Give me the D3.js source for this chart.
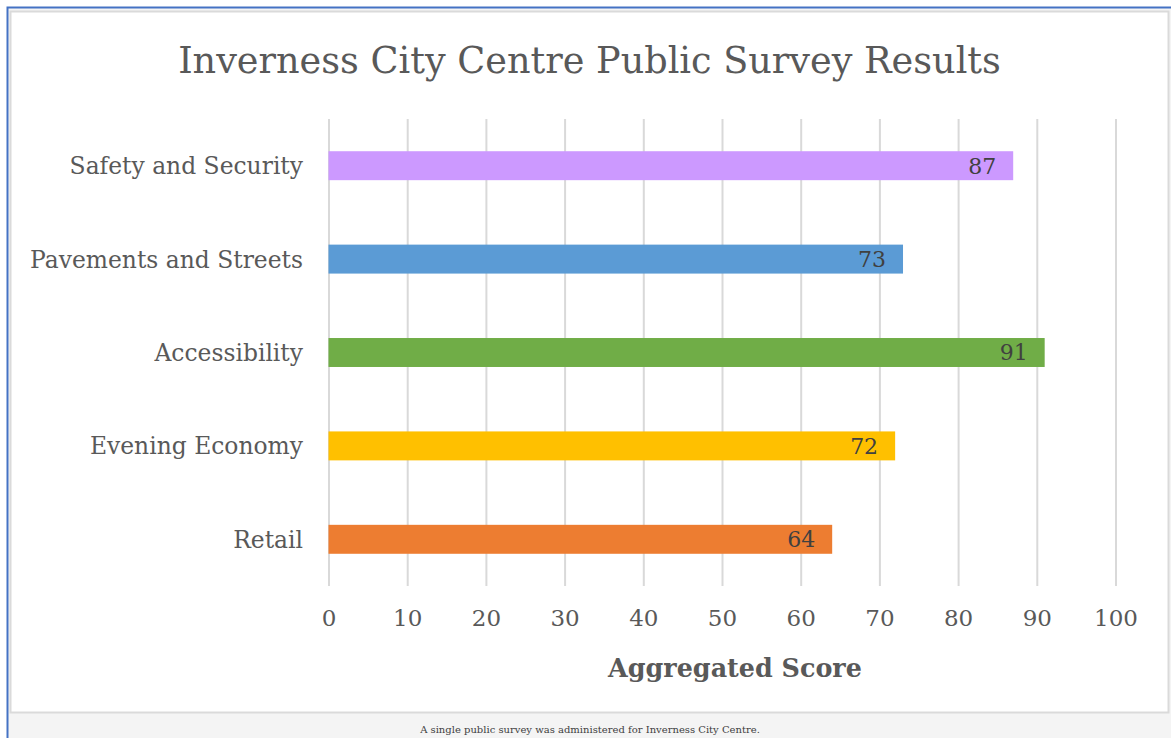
<!DOCTYPE html>
<html>
<head>
<meta charset="utf-8">
<script src="https://cdn.jsdelivr.net/npm/d3@7"></script>
<style>
  html, body { margin: 0; padding: 0; background: #ffffff; }
  svg { display: block; }
</style>
</head>
<body>
<svg id="chart" width="1171" height="738"></svg>
<script>
// Survey categories, top to bottom
const categories = [
  "Safety and Security",
  "Pavements and Streets",
  "Accessibility",
  "Evening Economy",
  "Retail"
];
// Aggregated score per category
const scores = [87, 73, 91, 72, 64];
// Bar colour per category
const barColors = ["#cc99ff", "#5b9bd5", "#70ad47", "#ffc000", "#ed7d31"];
// Horizontal axis ticks
const xTicks = [0, 10, 20, 30, 40, 50, 60, 70, 80, 90, 100];

const chartTitle = "Inverness City Centre Public Survey Results";
const xAxisTitle = "Aggregated Score";
const caption = "A single public survey was administered for Inverness City Centre.";

const W = 1171, H = 738;
const FONT = "'DejaVu Serif', 'Liberation Serif', serif";
const TEXT = "#595959";

const svg = d3.select("#chart");

// Scale a text element's font size so its rendered width equals `target`
function fitWidth(sel, target) {
  const node = sel.node();
  const fs = parseFloat(sel.attr("font-size"));
  const w = node.getComputedTextLength();
  if (w > 0) sel.attr("font-size", (fs * target / w).toFixed(2));
  return sel;
}

// Outer frame: blue rule with light grey surround
svg.append("rect")
  .attr("x", 7.5).attr("y", 7.5)
  .attr("width", W).attr("height", H)
  .attr("fill", "#f4f4f4")
  .attr("stroke", "#4472c4").attr("stroke-width", 2);

// White chart panel
svg.append("rect")
  .attr("x", 10.5).attr("y", 11.5)
  .attr("width", 1158).attr("height", 701)
  .attr("fill", "#ffffff")
  .attr("stroke", "#dadada").attr("stroke-width", 2);

// Scales
const x = d3.scaleLinear().domain([0, 100]).range([328.5, 1115.5]);
const y = d3.scaleBand()
  .domain(categories)
  .range([119, 586])
  .paddingInner(0.69)
  .paddingOuter(0.345);

// Vertical gridlines and tick labels via the bottom axis
const xAxis = d3.axisBottom(x)
  .tickValues(xTicks)
  .tickSize(-(586 - 119))
  .tickPadding(24)
  .tickFormat(d3.format("d"));

const gx = svg.append("g")
  .attr("transform", "translate(0,586)")
  .call(xAxis);
gx.select(".domain").remove();
gx.selectAll(".tick line")
  .attr("stroke", "#d9d9d9")
  .attr("stroke-width", 2);
gx.selectAll(".tick text")
  .attr("fill", TEXT)
  .attr("font-family", FONT)
  .attr("font-size", 23);

// Bars
const rows = categories.map((c, i) => ({ cat: c, v: scores[i], color: barColors[i] }));

svg.append("g").selectAll("rect")
  .data(rows)
  .join("rect")
  .attr("x", x(0))
  .attr("y", d => y(d.cat))
  .attr("width", d => x(d.v) - x(0))
  .attr("height", y.bandwidth())
  .attr("fill", d => d.color);

// Value labels, inside the bar end
svg.append("g").selectAll("text")
  .data(rows)
  .join("text")
  .attr("x", d => x(d.v) - 17)
  .attr("y", d => y(d.cat) + y.bandwidth() / 2)
  .attr("dy", "0.36em")
  .attr("text-anchor", "end")
  .attr("font-family", FONT)
  .attr("font-size", 22)
  .attr("fill", "#404040")
  .text(d => d.v);

// Category labels
const catG = svg.append("g");
const catLabels = catG.selectAll("text")
  .data(rows)
  .join("text")
  .attr("x", 303)
  .attr("y", d => y(d.cat) + y.bandwidth() / 2)
  .attr("dy", "0.36em")
  .attr("text-anchor", "end")
  .attr("font-family", FONT)
  .attr("font-size", 22)
  .attr("fill", TEXT)
  .text(d => d.cat);
// size all category labels from the longest one
{
  const longest = catLabels.filter(d => d.cat === "Pavements and Streets");
  fitWidth(longest, 273);
  catLabels.attr("font-size", longest.attr("font-size"));
}

// Chart title
const title = svg.append("text")
  .attr("x", 589.5)
  .attr("y", 73)
  .attr("text-anchor", "middle")
  .attr("font-family", FONT)
  .attr("font-size", 38)
  .attr("fill", TEXT)
  .text(chartTitle);
fitWidth(title, 823);

// Axis title
const axTitle = svg.append("text")
  .attr("x", 735)
  .attr("y", 677)
  .attr("text-anchor", "middle")
  .attr("font-family", FONT)
  .attr("font-weight", "bold")
  .attr("font-size", 26)
  .attr("fill", TEXT)
  .text(xAxisTitle);
fitWidth(axTitle, 254);

// Footnote caption
const cap = svg.append("text")
  .attr("x", 590)
  .attr("y", 733)
  .attr("text-anchor", "middle")
  .attr("font-family", FONT)
  .attr("font-size", 10)
  .attr("fill", "#404040")
  .text(caption);
fitWidth(cap, 340);
</script>
</body>
</html>
